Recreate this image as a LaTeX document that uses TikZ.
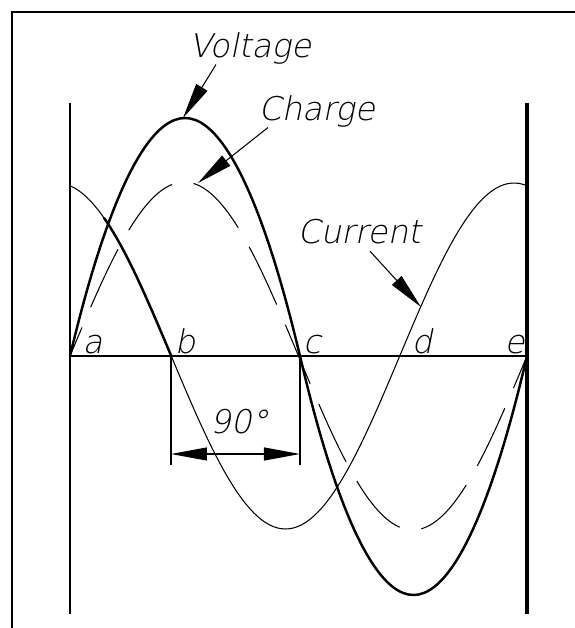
\documentclass[tikz,border=0pt]{standalone}
\usepackage{fontspec}
\setmainfont{DejaVu Sans}
\newfontfamily\cadfont[FakeSlant=0.2]{DejaVu Sans ExtraLight}
\usepackage{tikz}
\usetikzlibrary{arrows.meta}

\begin{document}
\begin{tikzpicture}[>={Triangle[length=3.6mm, width=1.3mm]},
    lbl/.style={inner sep=0pt, anchor=base west, font=\fontsize{9.3}{11}\selectfont\cadfont},
    thinline/.style={line width=0.3pt},
    heavy/.style={line width=0.7pt}]
    \clip (-0.70,-2.72) rectangle (5.05,3.56);

    % 1. Frame (only left and top edges show)
    \draw[line width=0.55pt] (-0.58,-3) -- (-0.58,3.44) -- (5.5,3.44);

    % 2. Time axis and the two end lines
    \coordinate (a) at (0,0);
    \coordinate (b) at (1.01,0);
    \coordinate (c) at (2.30,0);
    \coordinate (e) at (4.57,0);
    \draw[line width=0.55pt] (a) -- (e);
    \draw[thinline] (0,2.53) -- (0,-2.58);
    \draw[line width=1pt] (4.57,2.53) -- (4.57,-2.58);

    % 3. Voltage (heavy), charge (dashed), current (thin)
    \draw[heavy] (a) parabola bend (1.15,2.38) (c)
                     parabola bend (3.435,-2.39) (e);
    \draw[thinline, dash pattern=on 0.64cm off 0.22cm, dash phase=0.33cm]
        plot[domain=0:4.57, samples=120, smooth] (\x, {1.74*sin(360*\x/4.57)});
    \draw[thinline]
        plot[domain=0:4.57, samples=120, smooth] (\x, {1.73*cos(360*(\x+0.13)/4.57)});
    \draw[heavy]
        plot[domain=0.34:1.01, samples=20, smooth] (\x, {1.73*cos(360*(\x+0.13)/4.57)});

    % 4. Point labels on the axis
    \node[lbl] (la) at (0.12,0.03) {a};
    \node[lbl] (lb) at (1.04,0.03) {b};
    \node[lbl] (lc) at (2.325,0.03) {c};
    \node[lbl] (ld) at (3.41,0.03) {d};
    \node[lbl] (le) at (4.34,0.03) {e};

    % 5. Curve names with leaders
    \node[lbl] (volt) at (1.19,2.99) {Voltage};
    \node[lbl] (chg) at (1.88,2.36) {Charge};
    \node[lbl] (cur) at (2.27,1.13) {Current};
    \coordinate (vtip) at (1.13,2.38);
    \coordinate (qtip) at (1.28,1.73);
    \coordinate (itip) at (3.51,0.49);
    \draw[->, thinline] ([xshift=0.27cm]volt.south west) -- (vtip);
    \draw[->, thinline] ([xshift=0.10cm]chg.south west) -- (qtip);
    \draw[->, thinline] ([xshift=0.73cm, yshift=-0.07cm]cur.south west) -- (itip);

    % 6. 90 degree dimension between b and c
    \coordinate (dl) at (1.01,-0.98);
    \coordinate (dr) at (2.30,-0.98);
    \draw[thinline] (b) -- (1.01,-1.09);
    \draw[thinline] (c) -- (2.30,-1.09);
    \draw[<->, thinline] (dl) -- (dr);
    \node[lbl, anchor=base] (ang) at (1.69,-0.77) {90°};
\end{tikzpicture}
\end{document}
